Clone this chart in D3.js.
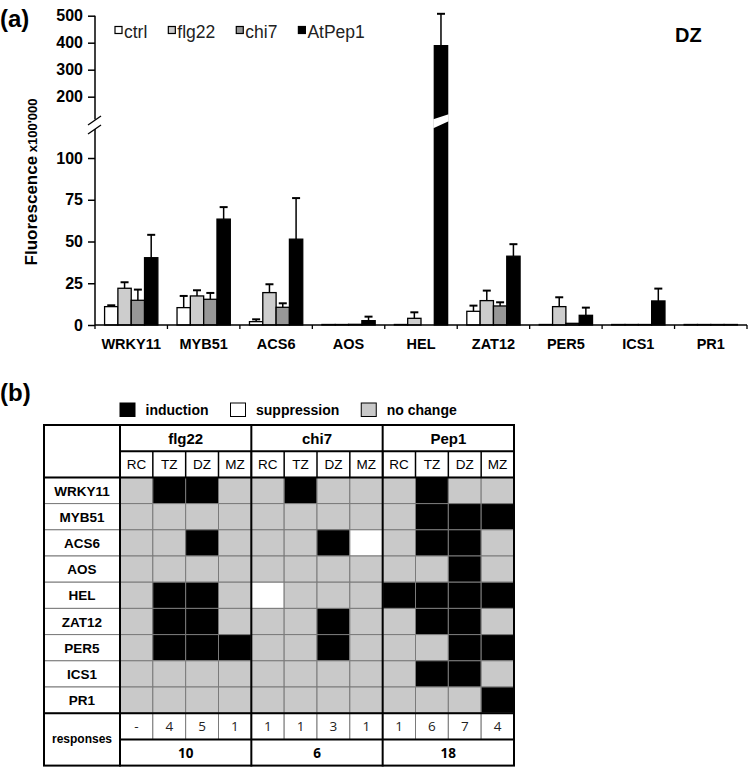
<!DOCTYPE html>
<html>
<head>
<meta charset="utf-8">
<script src="https://cdn.jsdelivr.net/npm/d3@7"></script>
<style>
  body { margin: 0; background: #fff; }
  svg { display: block; font-family: "Liberation Sans", Arial, sans-serif; }
</style>
</head>
<body>
<svg id="chart" width="750" height="767"></svg>
<script>
// ---- data (a) ----
var genes = ['WRKY11', 'MYB51', 'ACS6', 'AOS', 'HEL', 'ZAT12', 'PER5', 'ICS1', 'PR1'];
var seriesNames = ['ctrl', 'flg22', 'chi7', 'AtPep1'];
var ctrl = [11, 10.4, 2, 0.3, 0.3, 8.2, 0.3, 0.3, 0.3];
var ctrlErr = [0.8, 7, 1.4, 0, 0, 3.4, 0, 0, 0];
var flg22 = [22, 17.4, 19.4, 0.3, 4, 14.6, 11, 0.3, 0.3];
var flg22Err = [3.6, 3.4, 5, 0, 3.6, 6, 5.6, 0, 0];
var chi7 = [14.8, 15.4, 10.6, 0.4, 0, 11.4, 1, 0.3, 0.3];
var chi7Err = [6.4, 3.8, 2.4, 0, 0, 2.2, 0, 0, 0];
var pep1 = [40.3, 63.4, 51.4, 2.6, 389, 41.2, 5.8, 14.4, 0.3];
var pep1Err = [13.7, 7.2, 24.6, 2.4, 118, 7.2, 4.6, 7.4, 0];
var yTicks = [0, 25, 50, 75, 100, 200, 300, 400, 500];

// ---- data (b) ----
var treatments = ['flg22', 'chi7', 'Pep1'];
var zones = ['RC', 'TZ', 'DZ', 'MZ'];
// 1 = induction, -1 = suppression, 0 = no change ; columns: flg22 RC..MZ, chi7 RC..MZ, Pep1 RC..MZ
var responseMatrix = [
  [0, 1, 1, 0,  0, 1, 0, 0,  0, 1, 0, 0],
  [0, 0, 0, 0,  0, 0, 0, 0,  0, 1, 1, 1],
  [0, 0, 1, 0,  0, 0, 1, -1, 0, 1, 1, 0],
  [0, 0, 0, 0,  0, 0, 0, 0,  0, 0, 1, 0],
  [0, 1, 1, 0,  -1, 0, 0, 0, 1, 1, 1, 1],
  [0, 1, 1, 0,  0, 0, 1, 0,  0, 1, 1, 0],
  [0, 1, 1, 1,  0, 0, 1, 0,  0, 0, 1, 1],
  [0, 0, 0, 0,  0, 0, 0, 0,  0, 1, 1, 0],
  [0, 0, 0, 0,  0, 0, 0, 0,  0, 0, 0, 1]
];
var responseCounts = ['-', '4', '5', '1', '1', '1', '3', '1', '1', '6', '7', '4'];
var responseTotals = ['10', '6', '18'];
var legendB = [{ label: 'induction', v: 1 }, { label: 'suppression', v: -1 }, { label: 'no change', v: 0 }];

var svg = d3.select('#chart');
var barColors = { ctrl: '#ffffff', flg22: '#cdcdcd', chi7: '#979797', AtPep1: '#000000' };
var cellColor = function (v) { return v === 1 ? '#000' : (v === -1 ? '#fff' : '#c9c9c9'); };

// ============ (a) bar chart ============
var x = d3.scaleBand().domain(genes).range([95, 747]).padding(0);
var x1 = d3.scaleBand().domain(seriesNames).range([0, x.bandwidth()]).paddingInner(0).paddingOuter(0.72);
// broken axis: two linear pieces joined by the gap
var y = d3.scaleLinear().domain([0, 116, 124, 500]).range([325, 131.3, 117.2, 15.7]);

var rows = genes.map(function (g, i) {
  return {
    gene: g,
    values: [
      { s: 'ctrl', v: ctrl[i], e: ctrlErr[i] },
      { s: 'flg22', v: flg22[i], e: flg22Err[i] },
      { s: 'chi7', v: chi7[i], e: chi7Err[i] },
      { s: 'AtPep1', v: pep1[i], e: pep1Err[i] }
    ]
  };
});

svg.append('text').attr('x', 0).attr('y', 27).attr('font-size', 24).attr('font-weight', 'bold').text('(a)');

var groups = svg.append('g').selectAll('g').data(rows).enter().append('g')
  .attr('transform', function (d) { return 'translate(' + x(d.gene) + ',0)'; });

// error bars (behind bars)
var errs = groups.selectAll('g.err').data(function (d) { return d.values.filter(function (v) { return v.e > 0; }); })
  .enter().append('g').attr('class', 'err');
errs.append('line')
  .attr('x1', function (d) { return x1(d.s) + x1.bandwidth() / 2; })
  .attr('x2', function (d) { return x1(d.s) + x1.bandwidth() / 2; })
  .attr('y1', function (d) { return y(d.v); })
  .attr('y2', function (d) { return y(d.v + d.e); })
  .attr('stroke', '#000').attr('stroke-width', 1.5);
errs.append('line')
  .attr('x1', function (d) { return x1(d.s) + x1.bandwidth() / 2 - 4; })
  .attr('x2', function (d) { return x1(d.s) + x1.bandwidth() / 2 + 4; })
  .attr('y1', function (d) { return y(d.v + d.e); })
  .attr('y2', function (d) { return y(d.v + d.e); })
  .attr('stroke', '#000').attr('stroke-width', 2);

groups.selectAll('rect').data(function (d) { return d.values.filter(function (v) { return v.v > 0; }); })
  .enter().append('rect')
  .attr('x', function (d) { return x1(d.s); })
  .attr('width', x1.bandwidth())
  .attr('y', function (d) { return y(d.v); })
  .attr('height', function (d) { return y(0) - y(d.v); })
  .attr('fill', function (d) { return barColors[d.s]; })
  .attr('stroke', '#000').attr('stroke-width', 1.3);

// break stripe across bars that cross the gap
groups.each(function (d) {
  var g = d3.select(this);
  d.values.forEach(function (v) {
    if (v.v > 124) {
      var xa = x1(v.s) - 1, xb = x1(v.s) + x1.bandwidth() + 1, yc = y(120);
      g.append('polygon')
        .attr('points', [[xa, yc - 5], [xb, yc - 10], [xb, yc - 3], [xa, yc + 4]].join(' '))
        .attr('fill', '#fff');
    }
  });
});

// y axis
var yAxis = svg.append('g').attr('transform', 'translate(95,0)')
  .call(d3.axisLeft(y).tickValues(yTicks).tickSize(7).tickPadding(5));
yAxis.select('.domain').remove();
yAxis.selectAll('.tick line').attr('stroke', '#000').attr('stroke-width', 1.5);
yAxis.selectAll('.tick text').attr('font-size', 16).attr('font-weight', 'bold')
  .attr('font-family', '"Liberation Sans", Arial, sans-serif').attr('fill', '#000');
svg.append('line').attr('x1', 95).attr('x2', 95).attr('y1', y(500)).attr('y2', 119.5).attr('stroke', '#000').attr('stroke-width', 1.5);
svg.append('line').attr('x1', 95).attr('x2', 95).attr('y1', 129).attr('y2', y(0)).attr('stroke', '#000').attr('stroke-width', 1.5);
svg.append('line').attr('x1', 88).attr('y1', 125).attr('x2', 101).attr('y2', 116).attr('stroke', '#000').attr('stroke-width', 1.3);
svg.append('line').attr('x1', 88).attr('y1', 134).attr('x2', 101).attr('y2', 125).attr('stroke', '#000').attr('stroke-width', 1.3);

var yl = svg.append('text').attr('transform', 'translate(37,' + 182 + ') rotate(-90)')
  .attr('text-anchor', 'middle').attr('font-weight', 'bold');
yl.append('tspan').attr('font-size', 17).text('Fluorescence');
yl.append('tspan').attr('font-size', 13).text(' x100\'000');

// x axis
svg.append('line').attr('x1', 95).attr('x2', 747).attr('y1', y(0)).attr('y2', y(0)).attr('stroke', '#000').attr('stroke-width', 1.5);
var bounds = genes.map(function (g) { return x(g); }).concat([x(genes[genes.length - 1]) + x.bandwidth()]);
svg.append('g').selectAll('line').data(bounds).enter().append('line')
  .attr('x1', function (d) { return d; }).attr('x2', function (d) { return d; })
  .attr('y1', y(0)).attr('y2', y(0) + 4).attr('stroke', '#000').attr('stroke-width', 1.3);
svg.append('g').selectAll('text').data(genes).enter().append('text')
  .attr('x', function (d) { return x(d) + x.bandwidth() / 2; })
  .attr('y', 349).attr('text-anchor', 'middle')
  .attr('font-size', 14.5).attr('font-weight', 'bold').text(function (d) { return d; });

// legend (a)
var lx = 115;
seriesNames.forEach(function (s) {
  svg.append('rect').attr('x', lx).attr('y', 26.5).attr('width', 7).attr('height', 7)
    .attr('fill', barColors[s]).attr('stroke', '#000').attr('stroke-width', 1.2);
  var t = svg.append('text').attr('x', lx + 9).attr('y', 37.5).attr('font-size', 17.5).attr('fill', '#222').text(s);
  lx += 9 + t.node().getComputedTextLength() + 21;
});
svg.append('text').attr('x', 675).attr('y', 42).attr('font-size', 20).attr('font-weight', 'bold').text('DZ');

// ============ (b) table ============
svg.append('text').attr('x', 0).attr('y', 401).attr('font-size', 24).attr('font-weight', 'bold').text('(b)');

var lbx = 120;
legendB.forEach(function (d) {
  svg.append('rect').attr('x', lbx).attr('y', 403).attr('width', 15).attr('height', 13.5)
    .attr('fill', cellColor(d.v)).attr('stroke', '#000').attr('stroke-width', 1);
  var t = svg.append('text').attr('x', lbx + 25.5).attr('y', 414.5).attr('font-size', 14)
    .attr('font-weight', 'bold').text(d.label);
  lbx += 25.5 + t.node().getComputedTextLength() + 22;
});

var tLeft = 44, tTop = 425, rowH = 26.2, labW = 76;
var colNames = [];
treatments.forEach(function (t) { zones.forEach(function (z) { colNames.push(t + '_' + z); }); });
var cx = d3.scaleBand().domain(colNames).range([tLeft + labW, 514]);
var cw = cx.bandwidth();
var gx = d3.scaleBand().domain(treatments).range([tLeft + labW, 514]);
var ry = d3.scaleBand().domain(genes).range([tTop + 2 * rowH, tTop + 11 * rowH]);
var tRight = 514, tBottom = tTop + 13 * rowH;
var tb = svg.append('g');

// gene cells
responseMatrix.forEach(function (row, i) {
  tb.selectAll(null).data(row).enter().append('rect')
    .attr('x', function (d, j) { return cx(colNames[j]); })
    .attr('y', ry(genes[i])).attr('width', cw).attr('height', ry.bandwidth())
    .attr('fill', function (d) { return cellColor(d); })
    .attr('stroke', '#7a7a7a').attr('stroke-width', 1);
});
// row labels
tb.selectAll(null).data(genes).enter().append('rect')
  .attr('x', tLeft).attr('y', function (d) { return ry(d); }).attr('width', labW).attr('height', ry.bandwidth())
  .attr('fill', '#fff').attr('stroke', '#7a7a7a').attr('stroke-width', 1);
tb.selectAll(null).data(genes).enter().append('text')
  .attr('x', tLeft + labW / 2).attr('y', function (d) { return ry(d) + rowH / 2 + 5; })
  .attr('text-anchor', 'middle').attr('font-size', 13.5).attr('font-weight', 'bold').text(function (d) { return d; });

// response counts row
var r1 = tTop + 11 * rowH, r2 = tTop + 12 * rowH;
tb.selectAll(null).data(responseCounts).enter().append('rect')
  .attr('x', function (d, j) { return cx(colNames[j]); }).attr('y', r1).attr('width', cw).attr('height', rowH)
  .attr('fill', '#fff').attr('stroke', '#7a7a7a').attr('stroke-width', 1);
tb.selectAll(null).data(responseCounts).enter().append('text')
  .attr('x', function (d, j) { return cx(colNames[j]) + cw / 2; }).attr('y', r1 + rowH / 2 + 5)
  .attr('text-anchor', 'middle').attr('font-size', 13.5).attr('font-family', '"Open Sans", sans-serif')
  .attr('fill', '#222').text(function (d) { return d; });
tb.selectAll(null).data(responseTotals).enter().append('text')
  .attr('x', function (d, j) { return gx(treatments[j]) + gx.bandwidth() / 2; }).attr('y', r2 + rowH / 2 + 5)
  .attr('text-anchor', 'middle').attr('font-size', 13.5).attr('font-weight', 'bold')
  .attr('font-family', '"Open Sans", sans-serif').text(function (d) { return d; });
tb.append('text').attr('x', tLeft + labW / 2).attr('y', r1 + rowH + 4).attr('text-anchor', 'middle')
  .attr('font-size', 12).attr('font-weight', 'bold').text('responses');

// header
tb.selectAll(null).data(treatments).enter().append('text')
  .attr('x', function (d) { return gx(d) + gx.bandwidth() / 2; }).attr('y', tTop + rowH / 2 + 5.5)
  .attr('text-anchor', 'middle').attr('font-size', 15).attr('font-weight', 'bold').text(function (d) { return d; });
tb.selectAll(null).data(colNames).enter().append('text')
  .attr('x', function (d) { return cx(d) + cw / 2; }).attr('y', tTop + rowH * 1.5 + 5)
  .attr('text-anchor', 'middle').attr('font-size', 13.5).text(function (d) { return d.split('_')[1]; });
tb.selectAll(null).data(colNames.slice(1)).enter().append('line')
  .attr('x1', function (d) { return cx(d); }).attr('x2', function (d) { return cx(d); })
  .attr('y1', tTop + rowH).attr('y2', tTop + 2 * rowH).attr('stroke', '#000').attr('stroke-width', 1.5);

// thick lines
var thick = function (x1v, y1v, x2v, y2v) {
  tb.append('line').attr('x1', x1v).attr('y1', y1v).attr('x2', x2v).attr('y2', y2v)
    .attr('stroke', '#000').attr('stroke-width', 2).attr('stroke-linecap', 'square');
};
treatments.forEach(function (t) { thick(gx(t), tTop, gx(t), tBottom); });
thick(tLeft + labW, tTop + rowH, tRight, tTop + rowH);
thick(tLeft, tTop + 2 * rowH, tRight, tTop + 2 * rowH);
thick(tLeft, r1, tRight, r1);
thick(tLeft + labW, r2, tRight, r2);
tb.append('rect').attr('x', tLeft).attr('y', tTop).attr('width', tRight - tLeft).attr('height', tBottom - tTop)
  .attr('fill', 'none').attr('stroke', '#000').attr('stroke-width', 2);
</script>
</body>
</html>
